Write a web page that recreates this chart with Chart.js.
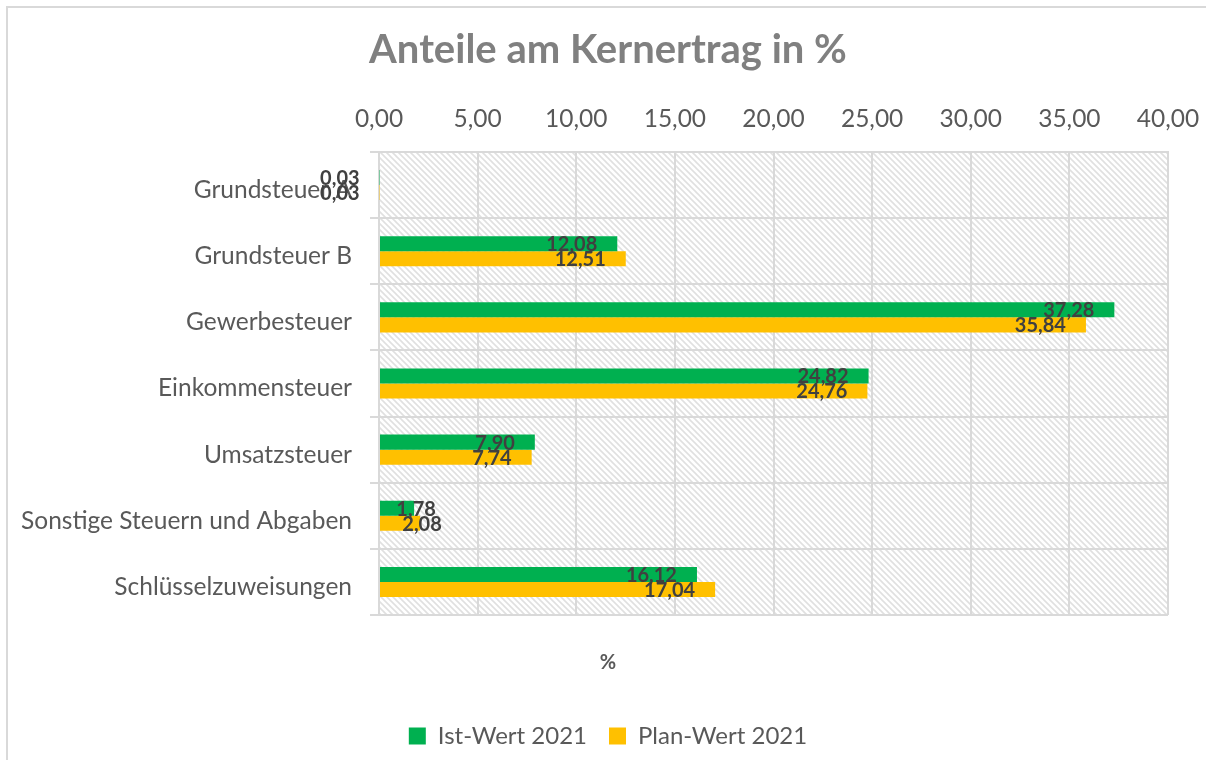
<!DOCTYPE html>
<html>
<head>
<meta charset="utf-8">
<script src="https://cdn.jsdelivr.net/npm/chart.js@4.4.1/dist/chart.umd.min.js"></script>
<style>
  html, body { margin: 0; padding: 0; background: #ffffff; }
  #wrap { width: 1206px; height: 760px; position: relative; }
</style>
</head>
<body>
<div id="wrap"><canvas id="c" width="1206" height="760"></canvas></div>
<script>
const categories = [
  'Grundsteuer A',
  'Grundsteuer B',
  'Gewerbesteuer',
  'Einkommensteuer',
  'Umsatzsteuer',
  'Sonstige Steuern und Abgaben',
  'Schlüsselzuweisungen'
];
const istWert2021 = [0.03, 12.08, 37.28, 24.82, 7.90, 1.78, 16.12];
const planWert2021 = [0.03, 12.51, 35.84, 24.76, 7.74, 2.08, 17.04];
const seriesNames = ['Ist-Wert 2021', 'Plan-Wert 2021'];
const titleText = 'Anteile am Kernertrag in %';
const axisTitle = '%';

const FONT = 'Lato, "Open Sans", sans-serif';
const fmt = v => v.toFixed(2).replace('.', ',');

function makePattern(ctx) {
  const p = document.createElement('canvas');
  p.width = 6; p.height = 6;
  const c = p.getContext('2d');
  c.fillStyle = '#ffffff';
  c.fillRect(0, 0, 6, 6);
  c.strokeStyle = '#e0e0e0';
  c.lineWidth = 1.6;
  for (let k = -2; k <= 2; k++) {
    c.beginPath();
    c.moveTo(k * 6 - 1, -1);
    c.lineTo(k * 6 + 7, 7);
    c.stroke();
  }
  return ctx.createPattern(p, 'repeat');
}

const bgPlugin = {
  id: 'bgPlugin',
  beforeDraw(chart) {
    const ctx = chart.ctx;
    const a = chart.chartArea;
    ctx.save();
    ctx.fillStyle = '#ffffff';
    ctx.fillRect(0, 0, chart.width, chart.height);
    ctx.strokeStyle = '#d9d9d9';
    ctx.lineWidth = 2;
    ctx.strokeRect(7, 7, chart.width + 20, chart.height + 20);
    ctx.fillStyle = makePattern(ctx);
    ctx.fillRect(a.left, a.top, a.right - a.left, a.bottom - a.top);
    ctx.restore();
  }
};

const labelPlugin = {
  id: 'labelPlugin',
  afterDatasetsDraw(chart) {
    const ctx = chart.ctx;
    ctx.save();
    ctx.font = 'bold 20px ' + FONT;
    ctx.fillStyle = '#404040';
    ctx.textBaseline = 'middle';
    chart.data.datasets.forEach((ds, di) => {
      const meta = chart.getDatasetMeta(di);
      meta.data.forEach((bar, i) => {
        const txt = fmt(ds.data[i]);
        const w = ctx.measureText(txt).width;
        const len = bar.x - bar.base;
        let right;
        if (len > 10 && len < w + 20) {
          right = bar.x + 2 + w / 2;
        } else {
          right = bar.x - 20;
        }
        ctx.textAlign = 'right';
        ctx.fillText(txt, right, bar.y + 1);
      });
    });
    ctx.restore();
  }
};

new Chart(document.getElementById('c'), {
  type: 'bar',
  data: {
    labels: categories,
    datasets: [
      { label: seriesNames[0], data: istWert2021, backgroundColor: '#00b050' },
      { label: seriesNames[1], data: planWert2021, backgroundColor: '#ffc000' }
    ]
  },
  options: {
    indexAxis: 'y',
    responsive: false,
    animation: false,
    devicePixelRatio: 1,
    layout: { padding: { left: 10, right: 0, top: 0, bottom: 2 } },
    datasets: { bar: { categoryPercentage: 0.4545, barPercentage: 1.0 } },
    scales: {
      x: {
        type: 'linear',
        position: 'top',
        min: 0, max: 40,
        ticks: { stepSize: 5, padding: 18, color: '#595959', font: { family: FONT, size: 24.5 }, callback: v => fmt(v) },
        grid: { color: '#d9d9d9', lineWidth: 2, drawTicks: false },
        border: { color: '#d9d9d9', width: 2 },
        afterFit(scale) { scale.height = 70; scale.paddingRight = 38; scale.paddingLeft = 0; }
      },
      y: {
        type: 'category',
        offset: true,
        ticks: { padding: 18, labelOffset: 5, color: '#595959', font: { family: FONT, size: 24.5 } },
        grid: { color: '#d9d9d9', lineWidth: 2, offset: true, drawTicks: true, tickLength: 9 },
        border: { color: '#d9d9d9', width: 2 },
        afterFit(scale) { scale.width = 369; }
      }
    },
    plugins: {
      title: {
        display: true,
        text: titleText,
        color: '#808080',
        font: { family: FONT, size: 40, weight: 'bold', lineHeight: 1.2 },
        padding: { top: 26, bottom: 8 }
      },
      subtitle: {
        display: true,
        position: 'bottom',
        weight: 500,
        text: axisTitle,
        color: '#595959',
        font: { family: FONT, size: 20, weight: 'bold', lineHeight: 1.2 },
        padding: { top: 36, bottom: 27 }
      },
      legend: {
        display: true,
        position: 'bottom',
        labels: { color: '#595959', font: { family: FONT, size: 24 }, boxWidth: 17, boxHeight: 17, padding: 22 }
      },
      tooltip: { enabled: false }
    }
  },
  plugins: [bgPlugin, labelPlugin]
});
</script>
</body>
</html>
